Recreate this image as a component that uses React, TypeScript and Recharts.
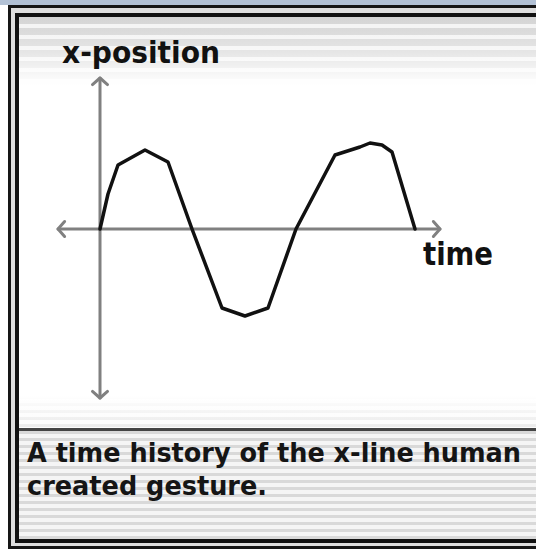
import { LineChart, Line, XAxis, YAxis, ReferenceLine } from "recharts";

// gesture trace: time vs. x-position
const TIME = [0, 0.8, 1.8, 4.5, 6.8, 9.2, 12.2, 14.5, 16.8, 19.6, 23.5, 26, 27, 28.2, 29.2, 31.5];
const X_POS = [0, 3.5, 6.4, 7.9, 6.7, 0, -7.9, -8.7, -7.9, 0, 7.4, 8.2, 8.6, 8.4, 7.7, 0];

const T_DOMAIN = [-4.2, 34];
const X_DOMAIN = [-16.9, 15.1];

const CAPTION = ["A time history of the x-line human", "created gesture."];

const data = TIME.map((t, i) => ({ t, x: X_POS[i] }));

const AXIS_GRAY = "#808080";
const LABEL_FONT = "'DejaVu Sans', sans-serif";

function chevron(x: number, y: number, a: number) {
  const len = 10;
  const spread = 0.85;
  const ax = x - len * Math.cos(a - spread);
  const ay = y - len * Math.sin(a - spread);
  const bx = x - len * Math.cos(a + spread);
  const by = y - len * Math.sin(a + spread);
  return `M${ax},${ay} L${x},${y} L${bx},${by}`;
}

// axis line with an open arrowhead at both ends
function ArrowAxis(props: any) {
  const { x1, y1, x2, y2 } = props;
  const a = Math.atan2(y2 - y1, x2 - x1);
  const common = {
    stroke: AXIS_GRAY,
    strokeWidth: 3,
    fill: "none",
    strokeLinecap: "round" as const,
    strokeLinejoin: "round" as const,
  };
  return (
    <g>
      <line x1={x1} y1={y1} x2={x2} y2={y2} {...common} />
      <path d={chevron(x2, y2, a)} {...common} />
      <path d={chevron(x1, y1, a + Math.PI)} {...common} />
    </g>
  );
}

const stripes = (dark: string, light: string, a: number, b: number) =>
  `repeating-linear-gradient(to bottom, ${dark} 0px, ${dark} ${a}px, ${light} ${a}px, ${light} ${b}px)`;

export default function App() {
  return (
    <div
      style={{
        position: "absolute",
        left: 0,
        top: 0,
        width: 536,
        height: 551,
        overflow: "hidden",
        background: "#fff",
      }}
    >
      {/* window strip and double frame */}
      <div style={{ position: "absolute", left: 0, top: 0, width: 536, height: 5, background: "#b2c1d5" }} />
      <div
        style={{
          position: "absolute",
          left: 8,
          top: 5,
          width: 620,
          height: 538,
          border: "3px solid #161616",
          background: "#dedede",
        }}
      />
      <div
        style={{
          position: "absolute",
          left: 15,
          top: 13,
          width: 620,
          height: 522,
          border: "4px solid #111",
          background: "#fff",
        }}
      />
      {/* faded stripes at the top of the panel */}
      <div
        style={{
          position: "absolute",
          left: 19,
          top: 17,
          width: 517,
          height: 68,
          background: `linear-gradient(to bottom, rgba(255,255,255,0) 0%, rgba(255,255,255,0.4) 50%, #fff 100%), ${stripes("#d4d4d4", "#f3f3f3", 7, 11)}`,
        }}
      />
      {/* faded stripes above the caption */}
      <div
        style={{
          position: "absolute",
          left: 19,
          top: 396,
          width: 517,
          height: 32,
          background: `linear-gradient(to top, rgba(255,255,255,0.3) 0%, #fff 100%), ${stripes("#e2e2e2", "#fafafa", 3, 7)}`,
        }}
      />
      <div style={{ position: "absolute", left: 19, top: 428, width: 517, height: 3, background: "#444" }} />
      <div
        style={{
          position: "absolute",
          left: 19,
          top: 431,
          width: 517,
          height: 108,
          background: stripes("#d9d9d9", "#f5f5f5", 3, 7),
        }}
      />

      <div style={{ position: "absolute", left: 0, top: 0 }}>
        <LineChart
          width={536}
          height={551}
          data={data}
          margin={{ top: 78, left: 58, right: 96, bottom: 153 }}
        >
          <XAxis dataKey="t" type="number" domain={T_DOMAIN} allowDataOverflow hide />
          <YAxis dataKey="x" type="number" domain={X_DOMAIN} allowDataOverflow hide />
          <ReferenceLine
            segment={[
              { x: T_DOMAIN[0], y: 0 },
              { x: T_DOMAIN[1], y: 0 },
            ]}
            ifOverflow="visible"
            shape={ArrowAxis}
          />
          <ReferenceLine
            segment={[
              { x: 0, y: X_DOMAIN[0] },
              { x: 0, y: X_DOMAIN[1] },
            ]}
            ifOverflow="visible"
            shape={ArrowAxis}
          />
          <Line
            type="linear"
            dataKey="x"
            stroke="#111"
            strokeWidth={3.5}
            strokeLinejoin="round"
            strokeLinecap="round"
            dot={false}
            activeDot={false}
            isAnimationActive={false}
          />
        </LineChart>
      </div>

      {/* axis titles and caption */}
      <svg
        width={536}
        height={551}
        style={{ position: "absolute", left: 0, top: 0, pointerEvents: "none" }}
      >
        <text
          x={62}
          y={63}
          fontFamily={LABEL_FONT}
          fontWeight="bold"
          fontSize={31}
          fill="#111"
          textLength={158}
          lengthAdjust="spacingAndGlyphs"
        >
          x-position
        </text>
        <text
          x={423}
          y={265}
          fontFamily={LABEL_FONT}
          fontWeight="bold"
          fontSize={32}
          fill="#111"
          textLength={70}
          lengthAdjust="spacingAndGlyphs"
        >
          time
        </text>
        <text
          x={27}
          y={462}
          fontFamily={LABEL_FONT}
          fontWeight="bold"
          fontSize={26}
          fill="#151515"
          textLength={494}
          lengthAdjust="spacingAndGlyphs"
        >
          {CAPTION[0]}
        </text>
        <text
          x={27}
          y={495}
          fontFamily={LABEL_FONT}
          fontWeight="bold"
          fontSize={26}
          fill="#151515"
          textLength={240}
          lengthAdjust="spacingAndGlyphs"
        >
          {CAPTION[1]}
        </text>
      </svg>
    </div>
  );
}
